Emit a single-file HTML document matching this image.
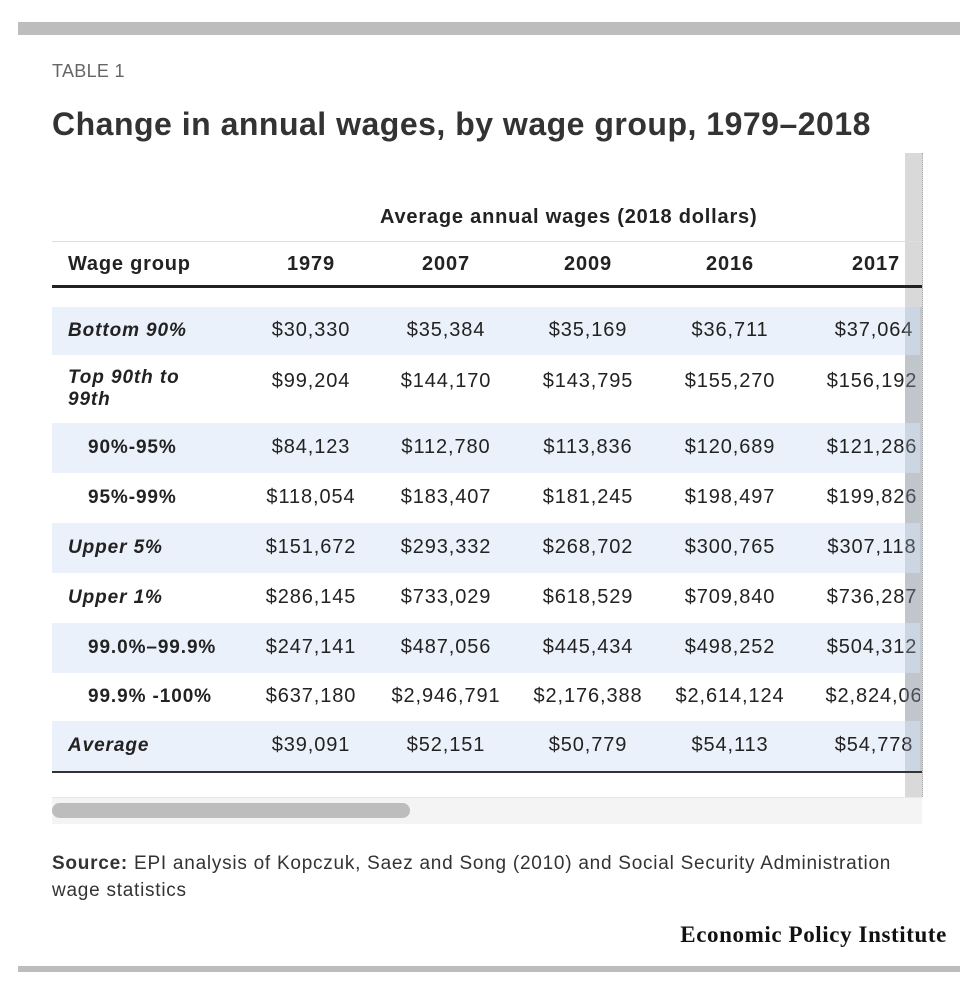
<!DOCTYPE html>
<html><head><style>
body{margin:0;width:980px;height:986px;background:#fff;font-family:"Liberation Sans",sans-serif;color:#222;position:relative;overflow:hidden}
.a{position:absolute}
.bar{background:#bdbdbd;left:18px;width:942px}
.row{position:absolute;left:52px;width:868px;overflow:hidden}
.sh{background:#eaf1fa}
.c{position:absolute;transform:translateX(-50%);white-space:nowrap;font-size:20px;letter-spacing:0.9px}
.l{position:absolute;font-size:19px;font-weight:bold;font-style:italic;left:16px;letter-spacing:0.9px}
.l2{position:absolute;font-size:19px;font-weight:bold;left:36px;letter-spacing:0.9px}
</style></head><body>
<div class="a bar" style="top:22px;height:13px"></div>
<div class="a" style="left:52px;top:61px;font-size:18px;color:#666;letter-spacing:0.3px">TABLE 1</div>
<div class="a" style="left:52px;top:106px;font-size:32px;font-weight:bold;color:#333;letter-spacing:0.5px">Change in annual wages, by wage group, 1979–2018</div>
<div class="a" style="left:905px;top:153px;width:17px;height:644px;background:#d9d9d9;border-right:1px dotted #aaa"></div>
<div class="a" style="left:380px;top:206px;font-size:20px;font-weight:bold;letter-spacing:0.8px">Average annual wages (2018 dollars)</div>
<div class="a" style="left:52px;top:241px;width:870px;height:1px;background:#ddd"></div>
<div class="a" style="left:68px;top:253px;font-size:20px;font-weight:bold;letter-spacing:0.8px">Wage group</div>
<div class="row" style="top:253px;height:24px;font-weight:bold">
<div class="c" style="left:259px">1979</div><div class="c" style="left:394px">2007</div><div class="c" style="left:536px">2009</div><div class="c" style="left:678px">2016</div><div class="c" style="left:824px">2017</div></div>
<div class="a" style="left:52px;top:285px;width:870px;height:3px;background:#222"></div>

<div class="row sh" style="top:307px;height:48px"><div class="l" style="top:13px">Bottom 90%</div>
<div class="c" style="left:259px;top:12px">$30,330</div><div class="c" style="left:394px;top:12px">$35,384</div><div class="c" style="left:536px;top:12px">$35,169</div><div class="c" style="left:678px;top:12px">$36,711</div><div class="c" style="left:822px;top:12px">$37,064</div></div>
<div class="row" style="top:355px;height:68px"><div class="l" style="top:12px;line-height:22px">Top 90th to<br>99th</div>
<div class="c" style="left:259px;top:15px">$99,204</div><div class="c" style="left:394px;top:15px">$144,170</div><div class="c" style="left:536px;top:15px">$143,795</div><div class="c" style="left:678px;top:15px">$155,270</div><div class="c" style="left:820px;top:15px">$156,192</div></div>
<div class="row sh" style="top:423px;height:50px"><div class="l2" style="top:14px">90%-95%</div>
<div class="c" style="left:259px;top:13px">$84,123</div><div class="c" style="left:394px;top:13px">$112,780</div><div class="c" style="left:536px;top:13px">$113,836</div><div class="c" style="left:678px;top:13px">$120,689</div><div class="c" style="left:820px;top:13px">$121,286</div></div>
<div class="row" style="top:473px;height:50px"><div class="l2" style="top:14px">95%-99%</div>
<div class="c" style="left:259px;top:13px">$118,054</div><div class="c" style="left:394px;top:13px">$183,407</div><div class="c" style="left:536px;top:13px">$181,245</div><div class="c" style="left:678px;top:13px">$198,497</div><div class="c" style="left:820px;top:13px">$199,826</div></div>
<div class="row sh" style="top:523px;height:50px"><div class="l" style="top:14px">Upper 5%</div>
<div class="c" style="left:259px;top:13px">$151,672</div><div class="c" style="left:394px;top:13px">$293,332</div><div class="c" style="left:536px;top:13px">$268,702</div><div class="c" style="left:678px;top:13px">$300,765</div><div class="c" style="left:820px;top:13px">$307,118</div></div>
<div class="row" style="top:573px;height:50px"><div class="l" style="top:14px">Upper 1%</div>
<div class="c" style="left:259px;top:13px">$286,145</div><div class="c" style="left:394px;top:13px">$733,029</div><div class="c" style="left:536px;top:13px">$618,529</div><div class="c" style="left:678px;top:13px">$709,840</div><div class="c" style="left:820px;top:13px">$736,287</div></div>
<div class="row sh" style="top:623px;height:50px"><div class="l2" style="top:14px">99.0%–99.9%</div>
<div class="c" style="left:259px;top:13px">$247,141</div><div class="c" style="left:394px;top:13px">$487,056</div><div class="c" style="left:536px;top:13px">$445,434</div><div class="c" style="left:678px;top:13px">$498,252</div><div class="c" style="left:820px;top:13px">$504,312</div></div>
<div class="row" style="top:673px;height:48px"><div class="l2" style="top:13px">99.9% -100%</div>
<div class="c" style="left:259px;top:12px">$637,180</div><div class="c" style="left:394px;top:12px">$2,946,791</div><div class="c" style="left:536px;top:12px">$2,176,388</div><div class="c" style="left:678px;top:12px">$2,614,124</div><div class="c" style="left:828px;top:12px">$2,824,069</div></div>
<div class="row sh" style="top:721px;height:50px"><div class="l" style="top:14px">Average</div>
<div class="c" style="left:259px;top:13px">$39,091</div><div class="c" style="left:394px;top:13px">$52,151</div><div class="c" style="left:536px;top:13px">$50,779</div><div class="c" style="left:678px;top:13px">$54,113</div><div class="c" style="left:822px;top:13px">$54,778</div></div>
<div class="a" style="left:905px;top:307px;width:17px;height:464px;background:rgba(150,160,180,0.35)"></div>
<div class="a" style="left:52px;top:771px;width:870px;height:2px;background:#333"></div>
<div class="a" style="left:52px;top:797px;width:870px;height:26px;background:#f4f4f4;border-top:1px solid #e6e6e6"></div>
<div class="a" style="left:52px;top:803px;width:358px;height:15px;background:#bdbdbd;border-radius:8px"></div>
<div class="a" style="left:52px;top:850px;font-size:19px;line-height:27px;color:#333;letter-spacing:0.75px"><b>Source:</b> EPI analysis of Kopczuk, Saez and Song (2010) and Social Security Administration<br>wage statistics</div>
<div class="a" style="right:33px;top:922px;font-family:'Liberation Serif',serif;font-size:23px;font-weight:bold;color:#111;letter-spacing:0.6px">Economic Policy Institute</div>
<div class="a bar" style="top:966px;height:6px"></div>
</body></html>
